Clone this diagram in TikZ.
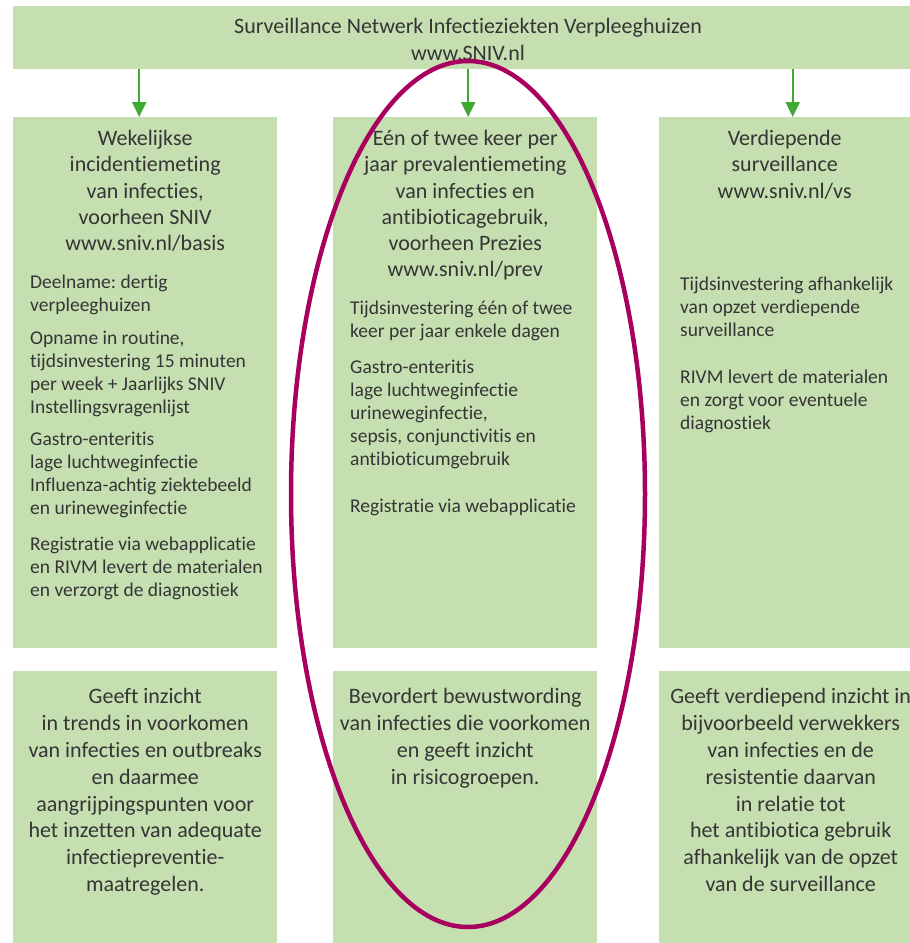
\documentclass[tikz,border=0pt]{standalone}
\usepackage{fontspec}
\setmainfont{Carlito}[Ligatures=NoCommon]
\usepackage{tikz}
\usetikzlibrary{positioning,arrows.meta}
\frenchspacing

\definecolor{boxgreen}{HTML}{C5DFB1}
\definecolor{arrowgreen}{HTML}{3FA934}
\definecolor{ringred}{HTML}{A8005E}
\definecolor{txt}{HTML}{353535}

\begin{document}
\begin{tikzpicture}[x=1pt, y=-1pt,
	box/.style={fill=boxgreen, anchor=north west, inner sep=0pt, minimum width=264pt},
	head/.style={anchor=north, align=center, inner sep=0pt, text=txt, font=\fontsize{22}{26.3}\selectfont},
	body/.style={anchor=north west, align=left, inner sep=0pt, text=txt, font=\fontsize{19.5}{23}\selectfont},
	result/.style={anchor=north, align=center, inner sep=0pt, text=txt, font=\fontsize{22}{26.9}\selectfont},
	down/.style={draw=arrowgreen, line width=2pt, -{Triangle[width=14pt,length=15pt]}}]

	\useasboundingbox (0,0) rectangle (910,943);

	% banner
	\node[box, minimum width=897pt, minimum height=63pt] (snv) at (13,6) {};
	\node[head, anchor=center, font=\fontsize{22}{27}\selectfont] (snvtxt) at (468,39) {Surveillance Netwerk Infectieziekten Verpleeghuizen\\www.SNIV.nl};

	% three kinds of surveillance
	\node[box, minimum height=531pt] (weekly) at (13,117) {};
	\node[box, minimum height=531pt] (prev) at (333,117) {};
	\node[box, minimum height=531pt, minimum width=251pt] (deep) at (659,117) {};

	\node[head, below=13pt of weekly.north] (weeklyhead) {Wekelijkse\\incidentiemeting\\van infecties,\\voorheen SNIV\\www.sniv.nl/basis};
	\node[head, below=13pt of prev.north] (prevhead) {Eén of twee keer per\\jaar prevalentiemeting\\van infecties en\\antibioticagebruik,\\voorheen Prezies\\www.sniv.nl/prev};
	\node[head, below=13pt of deep.north] (deephead) {Verdiepende\\surveillance\\www.sniv.nl/vs};

	\node[body] (weeklytxt) at ([shift={(17,158)}]weekly.north west) {Deelname: dertig\\verpleeghuizen\\[10pt]
		Opname in routine,\\tijdsinvestering 15 minuten\\per week + Jaarlijks SNIV\\Instellingsvragenlijst\\[9pt]
		Gastro-enteritis\\lage luchtweginfectie\\Influenza-achtig ziektebeeld\\en urineweginfectie\\[13pt]
		Registratie via webapplicatie\\en RIVM levert de materialen\\en verzorgt de diagnostiek};
	\node[body] (prevtxt) at ([shift={(17,184)}]prev.north west) {Tijdsinvestering één of twee\\keer per jaar enkele dagen\\[13pt]
		Gastro-enteritis\\lage luchtweginfectie\\urineweginfectie,\\sepsis, conjunctivitis en\\antibioticumgebruik\\[24pt]
		Registratie via webapplicatie};
	\node[body] (deeptxt) at ([shift={(21,160)}]deep.north west) {Tijdsinvestering afhankelijk\\van opzet verdiepende\\surveillance\\[24pt]
		RIVM levert de materialen\\en zorgt voor eventuele\\diagnostiek};

	% what it gives
	\node[box, minimum height=272pt] (weeklyres) at (13,671) {};
	\node[box, minimum height=272pt] (prevres) at (333,671) {};
	\node[box, minimum height=272pt, minimum width=251pt] (deepres) at (659,671) {};

	\node[result, below=17pt of weeklyres.north] (weeklyrestxt) {Geeft inzicht\\in trends in voorkomen\\van infecties en outbreaks\\en daarmee\\aangrijpingspunten voor\\het inzetten van adequate\\infectiepreventie-\\maatregelen.};
	\node[result, below=17pt of prevres.north] (prevrestxt) {Bevordert bewustwording\\van infecties die voorkomen\\en geeft inzicht\\in risicogroepen.};
	\node[result, below=17pt of deepres.north, xshift=6pt] (deeprestxt) {Geeft verdiepend inzicht in\\bijvoorbeeld verwekkers\\van infecties en de\\resistentie daarvan\\in relatie tot\\het antibiotica gebruik\\afhankelijk van de opzet\\van de surveillance};

	% arrows
	\draw[down] ([xshift=-6pt]snv.south -| weekly.north) -- ([xshift=-6pt]weekly.north);
	\draw[down] ([xshift=3pt]snv.south -| prev.north) -- ([xshift=3pt]prev.north);
	\draw[down] ([xshift=8pt]snv.south -| deep.north) -- ([xshift=8pt]deep.north);

	% ring round the prevalence column
	\draw[ringred, line width=4.5pt] (468,494) ellipse [x radius=177, y radius=433];

\end{tikzpicture}
\end{document}
